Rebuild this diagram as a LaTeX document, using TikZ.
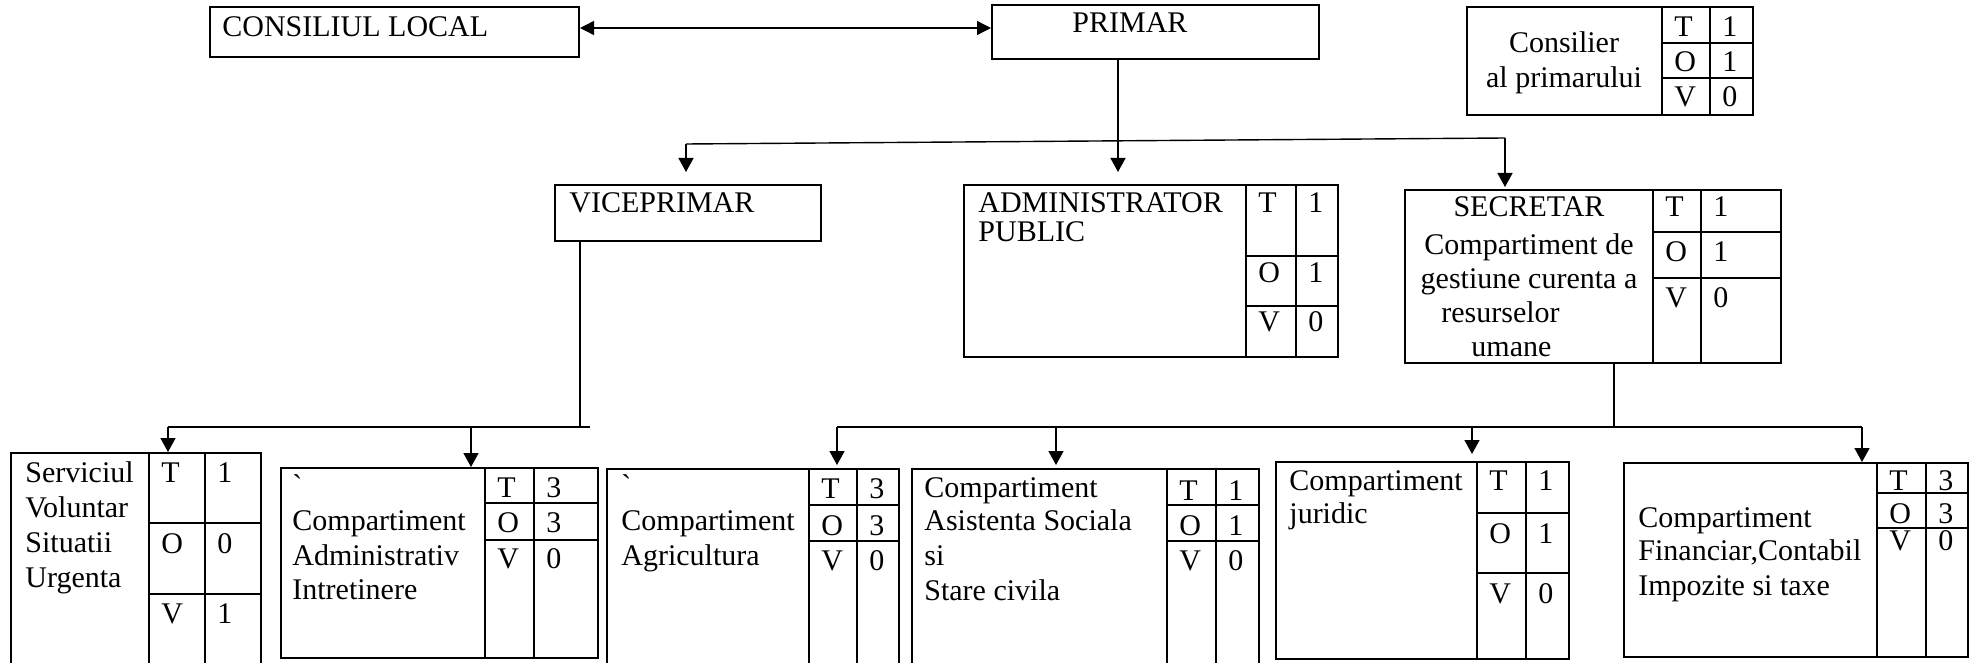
\documentclass[tikz,border=0pt]{standalone}
\usepackage{fontspec}
\setmainfont{Liberation Serif}
\usetikzlibrary{arrows.meta,fit}
\newcommand\tovgrid[5]{% name, col1, col2, row1, row2
  \draw[grid] (#2,0 |- #1.north) -- (#2,0 |- #1.south)
              (#3,0 |- #1.north) -- (#3,0 |- #1.south)
              (#2,#4) -- (#1.east |- 0,#4)
              (#2,#5) -- (#1.east |- 0,#5);}
\newcommand\tovtext[9]{% col1, col2, base1, base2, base3, T, O, V, prefix
  \node[txt] (#9T) at (#1+12,#3) {T};
  \node[txt] (#9t) at (#2+12,#3) {#6};
  \node[txt] (#9O) at (#1+12,#4) {O};
  \node[txt] (#9o) at (#2+12,#4) {#7};
  \node[txt] (#9V) at (#1+12,#5) {V};
  \node[txt] (#9v) at (#2+12,#5) {#8};}
\begin{document}
\begin{tikzpicture}[x=0.5pt,y=-0.5pt,
  box/.style={draw,line width=1pt,inner sep=0pt},
  grid/.style={line width=0.65pt},
  conn/.style={line width=0.7pt},
  arr/.style={conn,-{Triangle[length=7pt,width=7.5pt]}},
  dbl/.style={conn,{Triangle[length=7pt,width=7pt]}-{Triangle[length=7pt,width=7pt]}},
  txt/.style={anchor=base west,inner sep=0pt,font=\fontsize{15}{17}\selectfont},
  ctxt/.style={anchor=base,inner sep=0pt,font=\fontsize{15}{17}\selectfont}]
\clip (0,0) rectangle (1977,663);
\fill[white] (0,0) rectangle (1977,663);
% boxes
\node[box,fit={(210,7)(579,57)}] (cl) {};
\node[box,fit={(992,5)(1319,59)}] (pr) {};
\node[box,fit={(1467,7)(1753,115)}] (cons) {};
\node[box,fit={(555,185)(821,241)}] (vp) {};
\node[box,fit={(964,185)(1338,357)}] (adm) {};
\node[box,fit={(1405,190)(1781,363)}] (sec) {};
\node[box,fit={(11,453)(261,700)}] (svsu) {};
\node[box,fit={(281,468)(598,658)}] (cai) {};
\node[box,fit={(607,469)(899,700)}] (agr) {};
\node[box,fit={(912,469)(1259,700)}] (asc) {};
\node[box,fit={(1276,462)(1569,659)}] (jur) {};
\node[box,fit={(1624,463)(1968,657)}] (fin) {};
% grids
\tovgrid{cons}{1662}{1710}{43}{78}
\tovgrid{adm}{1246}{1296}{256}{306}
\tovgrid{sec}{1653}{1701}{232}{278}
\tovgrid{svsu}{149}{205}{523}{594}
\tovgrid{cai}{485}{534}{503}{540}
\tovgrid{agr}{809}{857}{505}{541}
\tovgrid{asc}{1167}{1216}{505}{541}
\tovgrid{jur}{1477}{1526}{513}{573}
\tovgrid{fin}{1877}{1926}{493}{528}
% grid texts
\tovtext{1662}{1710}{37}{72}{107}{1}{1}{0}{cons}
\tovtext{1246}{1296}{213}{283}{332}{1}{1}{0}{adm}
\tovtext{1653}{1701}{217}{262}{308}{1}{1}{0}{sec}
\tovtext{149}{205}{482}{553}{623}{1}{0}{1}{svsu}
\tovtext{485}{534}{497}{532}{568}{3}{3}{0}{cai}
\tovtext{809}{857}{498}{535}{570}{3}{3}{0}{agr}
\tovtext{1167}{1216}{500}{535}{570}{1}{1}{0}{asc}
\tovtext{1477}{1526}{490}{543}{603}{1}{1}{0}{jur}
\tovtext{1877}{1926}{490}{523}{550}{3}{3}{0}{fin}
% main texts
\node[txt] (tcl) at (222,37) {CONSILIUL LOCAL};
\node[txt] (tpr) at (1072,33) {PRIMAR};
\node[txt] (tvp) at (569,213) {VICEPRIMAR};
\node[txt] (tadm1) at (978,213) {ADMINISTRATOR};
\node[txt] (tadm2) at (978,242) {PUBLIC};
\node[ctxt] (tsec1) at (1529,217) {SECRETAR};
\node[ctxt] (tsec2) at (1529,255) {Compartiment de};
\node[ctxt] (tsec3) at (1529,289) {gestiune curenta a};
\node[txt] (tsec4) at (1441,323) {resurselor};
\node[txt] (tsec5) at (1471,357) {umane};
\node[ctxt] (tcons1) at (1564,53) {Consilier};
\node[ctxt] (tcons2) at (1564,88) {al primarului};
\node[txt] (tsv1) at (25,482) {Serviciul};
\node[txt] (tsv2) at (25,517) {Voluntar};
\node[txt] (tsv3) at (25,552) {Situatii};
\node[txt] (tsv4) at (25,587) {Urgenta};
\node[txt] (tcai0) at (292,495) {\textasciigrave};
\node[txt] (tcai1) at (292,530) {Compartiment};
\node[txt] (tcai2) at (292,565) {Administrativ};
\node[txt] (tcai3) at (292,599) {Intretinere};
\node[txt] (tagr0) at (621,495) {\textasciigrave};
\node[txt] (tagr1) at (621,530) {Compartiment};
\node[txt] (tagr2) at (621,565) {Agricultura};
\node[txt] (tasc1) at (924,497) {Compartiment};
\node[txt] (tasc2) at (924,530) {Asistenta Sociala};
\node[txt] (tasc3) at (924,565) {si};
\node[txt] (tasc4) at (924,600) {Stare civila};
\node[txt] (tjur1) at (1289,490) {Compartiment};
\node[txt] (tjur2) at (1289,523) {juridic};
\node[txt] (tfin1) at (1638,527) {Compartiment};
\node[txt] (tfin2) at (1638,560) {Financiar,Contabil};
\node[txt] (tfin3) at (1638,595) {Impozite si taxe};
% connectors
\coordinate (j1) at (686,144);
\coordinate (j2) at (1505,138);
\coordinate (j3) at (580,427);
\coordinate (j4) at (168,427);
\coordinate (j5) at (590,427);
\coordinate (j6) at (471,427);
\coordinate (j7) at (1614,427);
\coordinate (j8) at (837,427);
\coordinate (j9) at (1862,427);
\coordinate (j10) at (1056,427);
\coordinate (j11) at (1472,427);
\draw[dbl] (cl.east |- 0,28) -- (pr.west |- 0,28);
\draw[arr,shorten >=6pt] (pr.south -| 1118,0) -- (adm.north -| 1118,0);
\draw[conn] (j1) -- (j2);
\draw[arr,shorten >=6pt] (j1) -- (vp.north -| j1);
\draw[arr,shorten >=1pt] (j2) -- (sec.north -| j2);
\draw[conn] (vp.south -| j3) -- (j3);
\draw[conn] (j4) -- (j5);
\draw[arr] (j4) -- (svsu.north -| j4);
\draw[arr] (j6) -- (cai.north -| j6);
\draw[conn] (sec.south -| j7) -- (j7);
\draw[conn] (j8) -- (j9);
\draw[arr,shorten >=1.5pt] (j8) -- (agr.north -| j8);
\draw[arr,shorten >=1.5pt] (j10) -- (asc.north -| j10);
\draw[arr,shorten >=3.5pt] (j11) -- (jur.north -| j11);
\draw[arr] (j9) -- (fin.north -| j9);
\end{tikzpicture}
\end{document}
